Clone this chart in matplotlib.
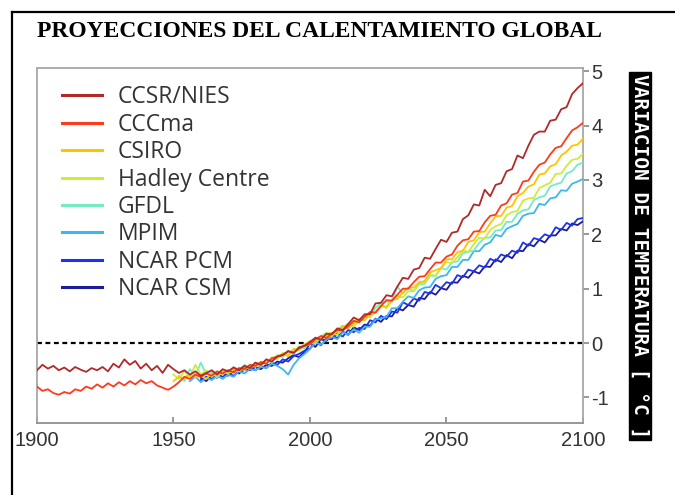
import numpy as np
import matplotlib
matplotlib.use("Agg")
import matplotlib.pyplot as plt
from matplotlib.lines import Line2D

plt.rcParams["axes.unicode_minus"] = False

nan = np.nan

# two-year steps, one row per decade
years = np.arange(1900, 2101, 2)

ccsr_nies = [
    -0.50, -0.40, -0.47, -0.42, -0.50,
    -0.45, -0.52, -0.44, -0.49, -0.53,
    -0.46, -0.50, -0.44, -0.52, -0.38,
    -0.45, -0.30, -0.40, -0.33, -0.47,
    -0.38, -0.50, -0.42, -0.55, -0.40,
    -0.48, -0.55, -0.50, -0.58, -0.52,
    -0.60, -0.55, -0.50, -0.58, -0.48,
    -0.52, -0.45, -0.50, -0.42, -0.46,
    -0.36, -0.40, -0.30, -0.34, -0.25,
    -0.22, -0.15, -0.18, -0.08, -0.05,
    0.02, 0.10, 0.06, 0.17, 0.16,
    0.27, 0.24, 0.35, 0.47, 0.42,
    0.53, 0.53, 0.73, 0.74, 0.88,
    0.86, 1.04, 1.20, 1.18, 1.35,
    1.38, 1.57, 1.55, 1.73, 1.90,
    1.86, 2.03, 2.05, 2.28, 2.35,
    2.55, 2.53, 2.82, 2.70, 2.91,
    2.94, 3.16, 3.20, 3.45, 3.40,
    3.63, 3.83, 3.89, 3.89, 4.09,
    4.11, 4.30, 4.34, 4.58, 4.69,
    4.78,
]

cccma = [
    -0.80, -0.88, -0.85, -0.92, -0.95,
    -0.90, -0.93, -0.85, -0.88, -0.80,
    -0.84, -0.76, -0.82, -0.74, -0.80,
    -0.72, -0.78, -0.70, -0.76, -0.68,
    -0.74, -0.70, -0.78, -0.82, -0.86,
    -0.80, -0.72, -0.62, -0.66, -0.58,
    -0.62, -0.56, -0.60, -0.52, -0.56,
    -0.50, -0.54, -0.46, -0.48, -0.40,
    -0.42, -0.35, -0.38, -0.28, -0.25,
    -0.22, -0.15, -0.18, -0.10, -0.05,
    -0.02, 0.07, 0.13, 0.09, 0.18,
    0.24, 0.23, 0.31, 0.41, 0.38,
    0.48, 0.57, 0.56, 0.68, 0.79,
    0.78, 0.89, 1.00, 1.00, 1.12,
    1.22, 1.23, 1.36, 1.48, 1.48,
    1.59, 1.63, 1.79, 1.89, 1.91,
    2.05, 2.06, 2.22, 2.34, 2.36,
    2.53, 2.57, 2.73, 2.76, 2.97,
    2.99, 3.15, 3.28, 3.32, 3.47,
    3.59, 3.62, 3.77, 3.91, 3.97,
    4.05,
]

early = [nan] * 25  # 1900-1948: no run

csiro = early + [
    -0.70, -0.62, -0.66, -0.58, -0.64,
    -0.60, -0.66, -0.56, -0.60, -0.52,
    -0.56, -0.48, -0.52, -0.44, -0.46,
    -0.38, -0.42, -0.32, -0.30, -0.24,
    -0.20, -0.24, -0.12, -0.10, -0.02,
    0.03, 0.02, 0.12, 0.13, 0.13,
    0.22, 0.31, 0.27, 0.36, 0.44,
    0.42, 0.53, 0.56, 0.68, 0.67,
    0.80, 0.81, 0.93, 1.02, 1.02,
    1.12, 1.14, 1.30, 1.34, 1.38,
    1.54, 1.54, 1.67, 1.70, 1.86,
    1.89, 2.04, 2.05, 2.20, 2.33,
    2.34, 2.49, 2.52, 2.70, 2.76,
    2.88, 2.92, 3.10, 3.12, 3.25,
    3.29, 3.45, 3.52, 3.63, 3.65,
    3.76,
]

hadley = early + [
    -0.58, -0.66, -0.52, -0.62, -0.40,
    -0.58, -0.50, -0.62, -0.54, -0.58,
    -0.50, -0.56, -0.46, -0.50, -0.40,
    -0.44, -0.34, -0.38, -0.26, -0.30,
    -0.18, -0.22, -0.10, -0.14, -0.04,
    -0.03, 0.09, 0.06, 0.19, 0.18,
    0.15, 0.29, 0.36, 0.30, 0.42,
    0.49, 0.47, 0.58, 0.70, 0.64,
    0.77, 0.87, 0.84, 0.95, 0.95,
    1.10, 1.11, 1.26, 1.24, 1.38,
    1.49, 1.47, 1.58, 1.70, 1.68,
    1.82, 1.94, 1.92, 2.08, 2.15,
    2.19, 2.35, 2.41, 2.43, 2.62,
    2.66, 2.67, 2.85, 2.90, 2.95,
    3.11, 3.12, 3.26, 3.37, 3.39,
    3.48,
]

gfdl = early + [
    nan, -0.60, -0.70, -0.48, -0.62,
    -0.36, -0.58, -0.52, -0.64, -0.50,
    -0.56, -0.44, -0.50, -0.40, -0.46,
    -0.36, -0.42, -0.30, -0.36, -0.22,
    -0.26, -0.14, -0.20, -0.06, -0.10,
    0.04, -0.01, 0.12, 0.19, 0.16,
    0.25, 0.32, 0.28, 0.40, 0.41,
    0.51, 0.51, 0.65, 0.74, 0.76,
    0.76, 1.04, 0.91, 1.00, 0.96,
    1.08, 1.09, 1.24, 1.23, 1.38,
    1.35, 1.49, 1.50, 1.65, 1.68,
    1.70, 1.84, 1.94, 1.94, 2.07,
    2.08, 2.23, 2.23, 2.38, 2.44,
    2.46, 2.63, 2.68, 2.71, 2.88,
    2.92, 2.95, 3.12, 3.16, 3.28,
    3.32,
]

mpim = early + [
    nan, nan, nan, -0.70, -0.62,
    -0.72, -0.64, -0.68, -0.60, -0.66,
    -0.58, -0.62, -0.52, -0.56, -0.48,
    -0.50, -0.44, -0.46, -0.38, -0.42,
    -0.48, -0.58, -0.40, -0.28, -0.20,
    -0.11, 0.01, -0.03, 0.06, 0.12,
    0.07, 0.20, 0.15, 0.25, 0.19,
    0.30, 0.30, 0.44, 0.45, 0.48,
    0.64, 0.64, 0.76, 0.86, 0.83,
    0.97, 1.02, 1.03, 1.18, 1.23,
    1.25, 1.40, 1.40, 1.53, 1.53,
    1.69, 1.69, 1.81, 1.85, 1.99,
    1.96, 2.10, 2.15, 2.19, 2.34,
    2.38, 2.39, 2.56, 2.54, 2.66,
    2.68, 2.81, 2.80, 2.93, 2.97,
    3.02,
]

ncar_pcm = early + [
    nan, nan, nan, nan, nan,
    -0.68, -0.62, -0.66, -0.58, -0.62,
    -0.56, -0.60, -0.52, -0.50, -0.44,
    -0.50, -0.42, -0.46, -0.36, -0.40,
    -0.30, -0.34, -0.24, -0.20, -0.14,
    -0.10, 0.02, -0.04, 0.08, 0.07,
    0.18, 0.12, 0.24, 0.20, 0.28,
    0.26, 0.42, 0.38, 0.50, 0.44,
    0.58, 0.56, 0.75, 0.70, 0.82,
    0.78, 0.94, 0.91, 1.07, 1.01,
    1.12, 1.09, 1.25, 1.21, 1.35,
    1.32, 1.43, 1.39, 1.55, 1.50,
    1.63, 1.59, 1.70, 1.66, 1.85,
    1.79, 1.93, 1.90, 2.00, 1.96,
    2.13, 2.08, 2.21, 2.16, 2.28,
    2.30,
]

ncar_csm = early + [
    nan, nan, nan, nan, nan,
    -0.64, -0.70, -0.60, -0.64, -0.56,
    -0.60, -0.52, -0.56, -0.48, -0.50,
    -0.44, -0.48, -0.40, -0.42, -0.34,
    -0.36, -0.28, -0.22, -0.26, -0.16,
    -0.01, -0.07, 0.07, 0.04, 0.14,
    0.09, 0.21, 0.15, 0.29, 0.24,
    0.34, 0.32, 0.45, 0.39, 0.50,
    0.49, 0.64, 0.60, 0.70, 0.67,
    0.83, 0.81, 0.94, 0.89, 1.01,
    0.98, 1.12, 1.11, 1.24, 1.20,
    1.32, 1.28, 1.41, 1.40, 1.54,
    1.49, 1.62, 1.56, 1.70, 1.69,
    1.82, 1.78, 1.90, 1.85, 1.98,
    1.98, 2.10, 2.07, 2.20, 2.17,
    2.24,
]

labels = ["CCSR/NIES", "CCCma", "CSIRO", "Hadley Centre",
          "GFDL", "MPIM", "NCAR PCM", "NCAR CSM"]
series = [ccsr_nies, cccma, csiro, hadley, gfdl, mpim, ncar_pcm, ncar_csm]
colors = ["#b02a2a", "#ff3a1c", "#ffc400", "#cdec3a",
          "#74ecc4", "#3fb6f0", "#1c32f0", "#1c1c98"]

xticks = [1900, 1950, 2000, 2050, 2100]
yticks = [-1, 0, 1, 2, 3, 4, 5]

fig = plt.figure(figsize=(6.75, 4.95), dpi=100)
ax = fig.add_axes([0.0548, 0.1455, 0.8089, 0.7172])

n = len(series)
for i, (vals, lab, col) in enumerate(zip(series, labels, colors)):
    ax.plot(years, vals, color=col, lw=1.3, label=lab, zorder=3 + n - i)

ax.axhline(0, color="black", lw=1.6, ls=(0, (2.2, 1.6)), zorder=2)

ax.set_xlim(1900, 2100)
ax.set_ylim(-1.47, 5.06)
ax.set_xticks(xticks)
ax.set_yticks(yticks)
ax.yaxis.tick_right()
ax.tick_params(axis="x", direction="in", length=4, width=1.2, color="#888888",
               labelsize=14.5, labelcolor="#333333", pad=6)
ax.tick_params(axis="y", direction="out", length=4, width=1.2, color="#888888",
               labelsize=14.5, labelcolor="#333333", pad=2)
for lbl in ax.get_xticklabels() + ax.get_yticklabels():
    lbl.set_family("Liberation Sans")
for s in ax.spines.values():
    s.set_color("#a8a8a8")
    s.set_linewidth(1.3)
ax.spines["bottom"].set_color("#909090")

leg = ax.legend(loc="upper left", bbox_to_anchor=(0.02, 0.99), frameon=False,
                prop={"family": "Open Sans", "size": 16.5}, labelspacing=0.15,
                handlelength=1.75, handletextpad=0.7, borderaxespad=0.2)
for t in leg.get_texts():
    t.set_color("#333333")
for h in leg.get_lines():
    h.set_linewidth(2.2)

fig.text(0.055, 0.936, "PROYECCIONES DEL CALENTAMIENTO GLOBAL",
         family="Liberation Serif", weight="bold", fontsize=16.9,
         ha="left", va="center")

fig.text(0.948, 0.483, "VARIACION DE TEMPERATURA [ °C ]", rotation=-90,
         family="DejaVu Sans Mono", weight="bold", fontsize=14, color="white",
         ha="center", va="center",
         bbox=dict(facecolor="black", edgecolor="black", pad=1.2))

# page frame
fig.add_artist(Line2D([0.0185, 0.0185], [0.0, 0.9758], color="black", lw=1.6))
fig.add_artist(Line2D([0.0185, 1.0], [0.9758, 0.9758], color="black", lw=1.6))

fig.savefig("out.png", dpi=100)
